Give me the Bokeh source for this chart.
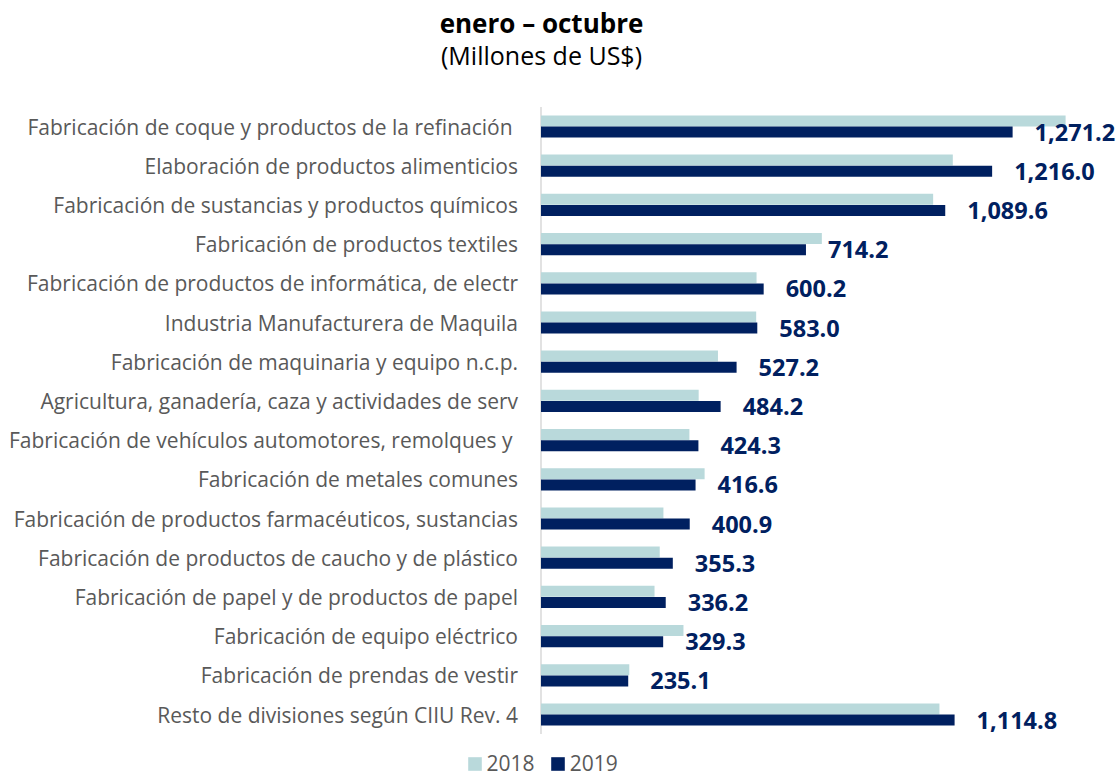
from bokeh.plotting import figure
from bokeh.models import ColumnDataSource, Range1d, Label, Legend, LegendItem
from bokeh.embed import file_html
from bokeh.resources import INLINE
from bokeh.core.properties import value

categories = [
    "Fabricación de coque y productos de la refinación ",
    "Elaboración de productos alimenticios",
    "Fabricación de sustancias y productos químicos",
    "Fabricación de productos textiles",
    "Fabricación de productos de informática, de electr",
    "Industria Manufacturera de Maquila",
    "Fabricación de maquinaria y equipo n.c.p.",
    "Agricultura, ganadería, caza y actividades de serv",
    "Fabricación de vehículos automotores, remolques y ",
    "Fabricación de metales comunes",
    "Fabricación de productos farmacéuticos, sustancias",
    "Fabricación de productos de caucho y de plástico",
    "Fabricación de papel y de productos de papel",
    "Fabricación de equipo eléctrico",
    "Fabricación de prendas de vestir",
    "Resto de divisiones según CIIU Rev. 4",
]
v2018 = [1414, 1110, 1057, 757, 581, 580, 477, 425, 400, 441, 330, 320, 306, 384, 238, 1074]
v2019 = [1271.2, 1216.0, 1089.6, 714.2, 600.2, 583.0, 527.2, 484.2, 424.3, 416.6, 400.9, 355.3, 336.2, 329.3, 235.1, 1114.8]
series_names = ["2018", "2019"]
title_text = "enero – octubre"
subtitle_text = "(Millones de US$)"

C18 = "#b9d9db"
C19 = "#002060"
GREY = "#595959"
FONT = "Open Sans"

# ---- layout constants (pixels) ----
W, H = 1116, 777
AXIS_PX = 540.5          # x pixel of the value-axis zero line
PX_PER_UNIT = 0.371      # pixels per million US$
ROW_PX = 39.2            # pixels per category row
FIRST_ROW_PX = 126.0     # y pixel of first category centre
BAR_H = 0.28
DODGE = 0.143

n = len(categories)
pos = [n - 1 - i for i in range(n)]
labels = [f"{v:,.1f}" for v in v2019]
src = ColumnDataSource(dict(cat=categories, pos=pos,
                            y18=[y + DODGE for y in pos], y19=[y - DODGE for y in pos],
                            v18=v2018, v19=v2019, lbl=labels,
                            zero=[0] * n))

x0 = -AXIS_PX / PX_PER_UNIT
x1 = (W - AXIS_PX) / PX_PER_UNIT
y1 = (n - 1) + FIRST_ROW_PX / ROW_PX
y0 = y1 - H / ROW_PX

p = figure(width=W, height=H, x_range=Range1d(x0, x1), y_range=Range1d(y0, y1),
           output_backend="svg", toolbar_location=None,
           x_axis_location=None, y_axis_location=None,
           min_border=0, min_border_left=0, min_border_right=0,
           min_border_top=0, min_border_bottom=0)
p.outline_line_color = None
p.xgrid.visible = False
p.ygrid.visible = False

# category axis line (spans category band)
p.segment(x0=0, y0=-0.5, x1=0, y1=n - 0.5, line_color="#d9d9d9", line_width=1.5)

r18 = p.hbar(y="y18", left="zero", right="v18", height=BAR_H,
             fill_color=C18, line_color=None, source=src)
r19 = p.hbar(y="y19", left="zero", right="v19", height=BAR_H,
             fill_color=C19, line_color=None, source=src)

# category labels
p.text(x="zero", y="pos", text="cat", source=src, x_offset=-23,
       text_align="right", text_baseline="middle",
       text_font=value(FONT), text_font_size="21px", text_color=GREY)

# value labels
p.text(x="v19", y="y19", text="lbl", source=src,
       x_offset=22, text_align="left", text_baseline="middle",
       text_font=value(FONT), text_font_style="bold", text_font_size="23.5px",
       text_color=C19)

p.add_layout(Label(x=541, y=H - 22, x_units="screen", y_units="screen", text=title_text,
                   text_align="center", text_baseline="alphabetic",
                   text_font=FONT, text_font_style="bold", text_font_size="26px",
                   text_color="#000000"))
p.add_layout(Label(x=541, y=H - 54, x_units="screen", y_units="screen", text=subtitle_text,
                   text_align="center", text_baseline="alphabetic",
                   text_font=FONT, text_font_size="25px", text_color="#000000"))

legend = Legend(items=[LegendItem(label=series_names[0], renderers=[r18]),
                       LegendItem(label=series_names[1], renderers=[r19])],
                orientation="horizontal", location=(465.6, 0),
                glyph_width=17, glyph_height=17, label_standoff=4, spacing=14,
                padding=0, margin=0, border_line_color=None, background_fill_alpha=0,
                label_text_font=FONT, label_text_font_size="21px", label_text_color=GREY)
p.add_layout(legend, "center")

open("out.html", "w").write(file_html(p, INLINE))
